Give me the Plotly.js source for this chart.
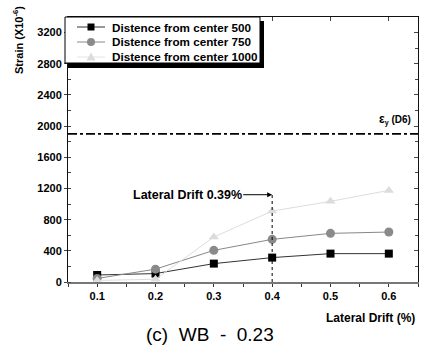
<!DOCTYPE html>
<html><head><meta charset="utf-8">
<script src="https://cdn.plot.ly/plotly-3.0.1.min.js"></script>
<style>html,body{margin:0;padding:0;background:#fff}#chart{width:427px;height:345px}</style>
</head><body><div id="chart"></div>
<script>
const drift = [0.1, 0.2, 0.3, 0.4, 0.5, 0.6];
const strain500 = [90, 108, 236, 313, 364, 364];
const strain750 = [45, 165, 406, 547, 624, 641];
const strain1000 = [20, 35, 577, 910, 1035, 1175];
const seriesNames = ['Distence from center 500', 'Distence from center 750', 'Distence from center 1000'];
const yieldStrain = 1900;
const driftMark = 0.4;
const driftMarkLevel = 1120;
const yTicks = [0, 400, 800, 1200, 1600, 2000, 2400, 2800, 3200];
const xTicks = [0.1, 0.2, 0.3, 0.4, 0.5, 0.6];

const F = 'Liberation Sans, Arial, sans-serif';
const M = {l: 68, r: 9, t: 17, b: 63};
const PW = 427 - M.l - M.r, PH = 345 - M.t - M.b;
const px = v => (v - M.l) / PW;          // pixel x -> paper
const py = v => (345 - M.b - v) / PH;    // pixel y -> paper

const styles = [
  {line: '#333', mk: '#000', sym: 'square', size: 8},
  {line: '#888', mk: '#8a8a8a', sym: 'circle', size: 9},
  {line: '#ddd', mk: '#dcdcdc', sym: 'triangle-up', size: 9}
];
const series = [strain500, strain750, strain1000];
const traces = series.map((s, i) => ({
  x: drift, y: s, name: seriesNames[i], mode: 'lines+markers', showlegend: false,
  line: {color: styles[i].line, width: 1},
  marker: {symbol: styles[i].sym, size: styles[i].size, color: styles[i].mk}, cliponaxis: false
}));
traces.push({x: [0.05], y: [0], xaxis: 'x2', yaxis: 'y2', showlegend: false, hoverinfo: 'skip',
  mode: 'markers', marker: {opacity: 0}});

// legend (drawn manually to match compact row spacing)
const shapes = [
  {type: 'line', xref: 'paper', x0: 0, x1: 1, yref: 'y', y0: yieldStrain, y1: yieldStrain,
   line: {color: '#000', width: 1.8, dash: 'dashdot'}},
  {type: 'line', xref: 'x', x0: driftMark, x1: driftMark, yref: 'y', y0: 0, y1: driftMarkLevel,
   line: {color: '#000', width: 1, dash: 'dot'}},
  {type: 'rect', xref: 'paper', yref: 'paper', layer: 'above', x0: px(68), x1: px(264), y0: py(68), y1: py(21),
   fillcolor: '#000', line: {width: 0}},
  {type: 'rect', xref: 'paper', yref: 'paper', layer: 'above', x0: px(65), x1: px(260), y0: py(63), y1: py(17),
   fillcolor: '#fff', line: {color: '#000', width: 1}}
];
const annotations = [];
const rowY = [27, 42, 57];
seriesNames.forEach((n, i) => {
  const y = rowY[i], st = styles[i];
  shapes.push({type: 'line', xref: 'paper', yref: 'paper', layer: 'above', x0: px(77), x1: px(105),
    y0: py(y), y1: py(y), line: {color: st.line === '#ddd' ? '#e4e4e4' : st.line, width: 1}});
  if (st.sym === 'square') {
    shapes.push({type: 'rect', xref: 'paper', yref: 'paper', layer: 'above', x0: px(87.5), x1: px(94.5),
      y0: py(y + 3.5), y1: py(y - 3.5), fillcolor: st.mk, line: {width: 0}});
  } else if (st.sym === 'circle') {
    shapes.push({type: 'circle', xref: 'paper', yref: 'paper', layer: 'above', x0: px(87), x1: px(95),
      y0: py(y + 4), y1: py(y - 4), fillcolor: st.mk, line: {width: 0}});
  } else {
    shapes.push({type: 'path', xref: 'paper', yref: 'paper', layer: 'above',
      path: `M ${px(86.5)} ${py(y + 3.5)} L ${px(95.5)} ${py(y + 3.5)} L ${px(91)} ${py(y - 4.5)} Z`,
      fillcolor: st.mk, line: {width: 0}});
  }
  annotations.push({x: px(110), y: py(y), xref: 'paper', yref: 'paper', xanchor: 'left', yanchor: 'middle',
    text: n, showarrow: false, font: {family: F, size: 11.7, weight: 'bold'}});
});

annotations.push(
  {x: driftMark, y: driftMarkLevel, xref: 'x', yref: 'y', text: 'Lateral Drift 0.39%',
   showarrow: true, ax: -85, ay: 0, arrowhead: 2, arrowsize: 1, arrowwidth: 1, arrowcolor: '#000',
   font: {family: F, size: 12.5, weight: 'bold'}},
  {x: px(413), y: py(129), xref: 'paper', yref: 'paper', xanchor: 'right', yanchor: 'bottom',
   text: '<span style="font-size:12px">ε</span><sub>y</sub> (D6)', showarrow: false,
   font: {family: F, size: 10, weight: 'bold'}},
  {x: px(18), y: py(40), xref: 'paper', yref: 'paper', xanchor: 'center', yanchor: 'middle',
   text: 'Strain (X10<sup>-6</sup>)', showarrow: false, textangle: -90,
   font: {family: F, size: 11, weight: 'bold'}},
  {x: px(417), y: py(318), xref: 'paper', yref: 'paper', xanchor: 'right', yanchor: 'middle',
   text: 'Lateral Drift (%)', showarrow: false, font: {family: F, size: 12, weight: 'bold'}},
  {x: px(210), y: py(334), xref: 'paper', yref: 'paper', xanchor: 'center', yanchor: 'middle',
   text: '(c)  WB  -  0.23', showarrow: false, font: {family: F, size: 19}}
);

const layout = {
  width: 427, height: 345, margin: M,
  paper_bgcolor: '#fff', plot_bgcolor: '#fff',
  font: {family: F, color: '#000'},
  showlegend: false,
  xaxis: {range: [0.05, 0.65], tickvals: xTicks, ticktext: xTicks.map(v => v.toFixed(1)),
    showgrid: false, zeroline: false, showline: true, linecolor: '#777', linewidth: 2,
    ticks: 'outside', ticklen: 3, tickcolor: '#333',
    minor: {dtick: 0.05, tick0: 0.05, ticks: 'outside', ticklen: 3, tickcolor: '#333'},
    tickfont: {family: F, size: 11, weight: 'bold'}},
  xaxis2: {overlaying: 'x', matches: 'x', side: 'top', showline: true, linecolor: '#111', linewidth: 1,
    tickvals: xTicks, ticks: 'inside', ticklen: 4, showticklabels: false, showgrid: false, zeroline: false},
  yaxis: {range: [0, 3400], tickvals: yTicks, showgrid: false, zeroline: false,
    showline: true, linecolor: '#111', linewidth: 1, ticks: 'outside', ticklen: 3,
    minor: {dtick: 200, ticks: 'inside', ticklen: 3},
    tickfont: {family: F, size: 11, weight: 'bold'}},
  yaxis2: {overlaying: 'y', matches: 'y', side: 'right', showline: true, linecolor: '#111', linewidth: 1,
    tickvals: yTicks, ticks: 'inside', ticklen: 4, showticklabels: false, showgrid: false, zeroline: false,
    minor: {dtick: 200, ticks: 'inside', ticklen: 3}},
  shapes: shapes,
  annotations: annotations
};
Plotly.newPlot('chart', traces, layout, {staticPlot: true});
</script></body></html>
